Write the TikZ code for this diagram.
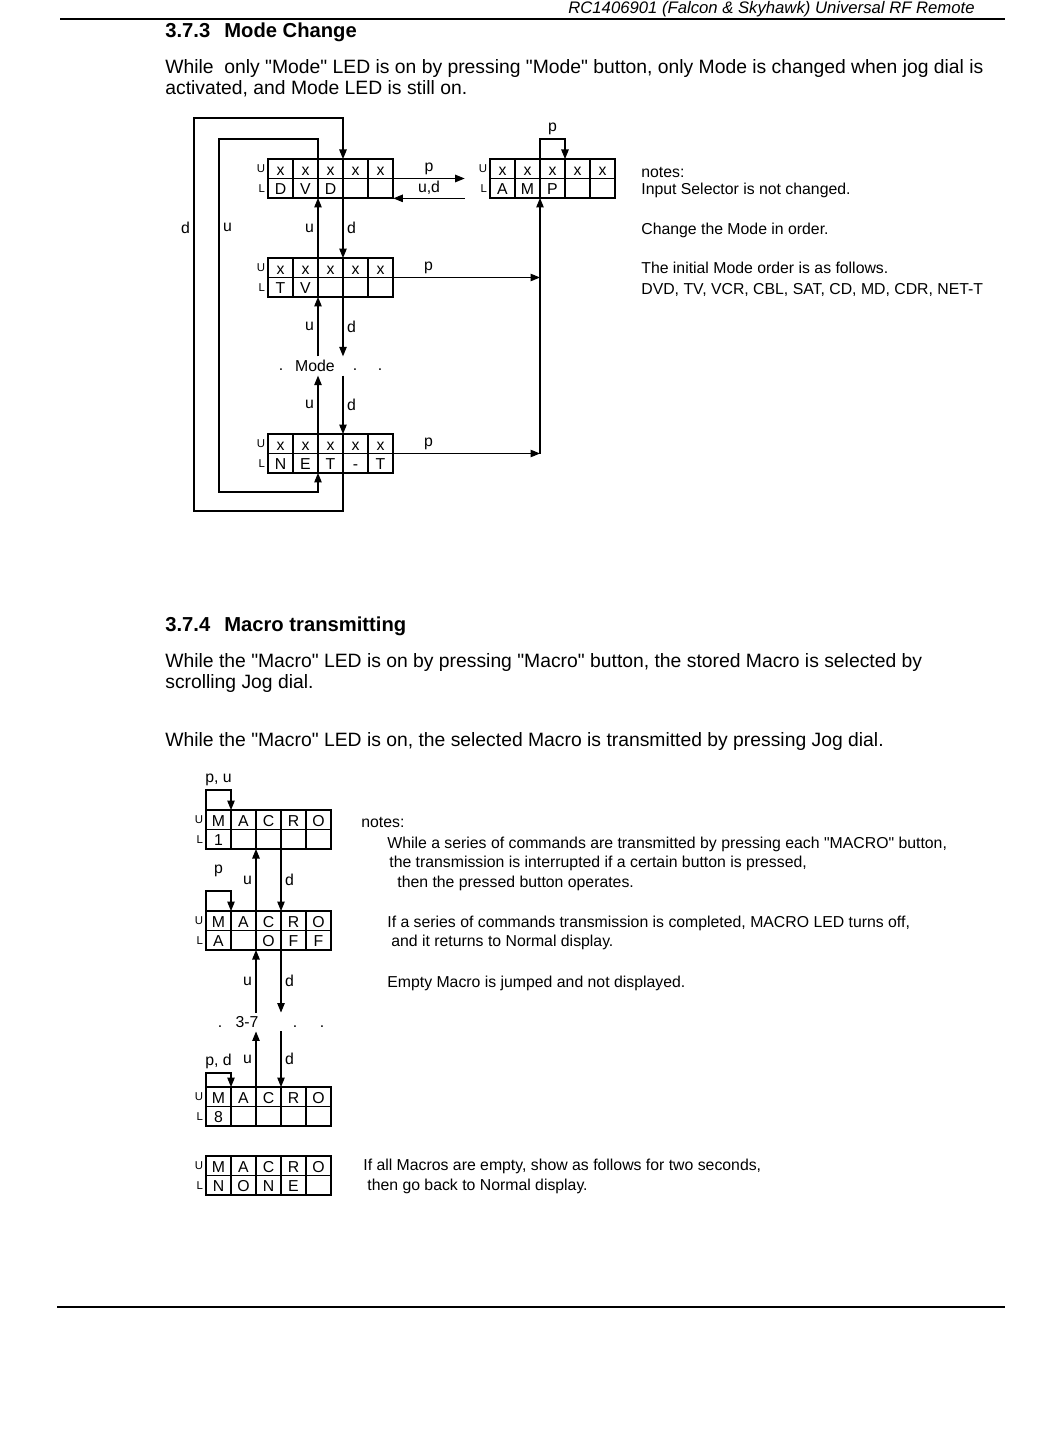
\documentclass[tikz,border=0pt]{standalone}
\usepackage{fontspec}
\setmainfont{Liberation Sans}
\usetikzlibrary{arrows.meta, calc, positioning, fit}

\newcommand{\dq}{\textquotedbl}

% one LED display: name, top left corner, upper row, lower row
\newcommand{\leddisp}[4]{%
  \foreach \cellch [count=\cellno] in {#3}
    \node[cell] (#1-u\cellno) at ($(#2)+(\cellno*25-25,0)$) {\cellch};
  \foreach \cellch [count=\cellno] in {#4}
    \node[cell] (#1-l\cellno) at ($(#2)+(\cellno*25-25,19.5)$) {\cellch};
  \node[fit=(#1-u1)(#1-l5), inner sep=0pt] (#1) {};
  \node[side] (#1-su) at (#1-u1.west) {U};
  \node[side] (#1-sl) at (#1-l1.west) {L};
}

\begin{document}
\begin{tikzpicture}[
  x=0.02cm, y=-0.02cm,
  cell/.style={draw, line width=0.7pt, outer sep=0pt, inner sep=0pt, anchor=north west,
    minimum width=0.5cm, minimum height=0.39cm, text height=0.72em, text depth=0pt,
    font=\fontsize{9}{10}\selectfont},
  side/.style={anchor=east, inner sep=1.5pt, font=\fontsize{6.5}{7}\selectfont},
  lbl/.style={inner sep=2pt, font=\fontsize{9}{10}\selectfont},
  txt/.style={anchor=west, inner sep=0pt, text height=1.5ex, text depth=0.25ex,
    font=\fontsize{11}{13}\selectfont},
  note/.style={txt, font=\fontsize{9}{10}\selectfont},
  head/.style={txt, font=\fontsize{11.5}{13}\selectfont\bfseries},
  wire/.style={line width=0.6pt},
  arr/.style={wire, -{Triangle[length=1.9mm, width=1.5mm]}},
  rule/.style={line width=1.1pt}
]
\fill[white] (0,0) rectangle (1049,1449);
\useasboundingbox (0,0) rectangle (1049,1449);

% page header and footer
\node[txt, anchor=east, font=\fontsize{9.5}{11}\selectfont\itshape] (hdr) at (975,8)
  {RC1406901 (Falcon \& Skyhawk) Universal RF Remote};
\draw[rule] (60,19) -- (1005,19);
\draw[rule] (57,1307) -- (1005,1307);

% 3.7.3
\node[head] (h373) at (165,32) {3.7.3\hspace{8pt}Mode Change};
\node[txt] (mtext1) at (165,68) {While\ \ only \dq Mode\dq{} LED is on by pressing \dq Mode\dq{} button, only Mode is changed when jog dial is};
\node[txt] (mtext2) at (165,89) {activated, and Mode LED is still on.};

\leddisp{dvd}{268,159}{x,x,x,x,x}{D,V,D,{},{}}
\leddisp{amp}{490,159}{x,x,x,x,x}{A,M,P,{},{}}
\leddisp{tv}{268,258}{x,x,x,x,x}{T,V,{},{},{}}
\leddisp{nett}{268,434}{x,x,x,x,x}{N,E,T,-,T}

\node[lbl] (modes) at (315,366) {Mode};
\node[lbl] (mdot1) at (281,370) {.};
\node[lbl] (mdot2) at (355,370) {.};
\node[lbl] (mdot3) at (380,370) {.};

\coordinate (dloopbot) at (194,511);
\coordinate (dlooptop) at (194,118);
\coordinate (ulooptop) at (219,139);
\coordinate (uloopbot) at (219,492);

% jog dial up / down
\draw[arr] (nett-l4.south west) |- (dloopbot) -- node[pos=0.72, left, lbl] {d} (dlooptop) -| (dvd-u4.north west);
\draw[arr] (dvd-u3.north west) |- (ulooptop) -- node[pos=0.25, right, lbl] {u} (uloopbot) -| (nett-l3.south west);
\draw[arr] (tv-u3.north west) -- node[midway, left, lbl] {u} (dvd-l3.south west);
\draw[arr] (dvd-l4.south west) -- node[midway, right, lbl] {d} (tv-u4.north west);
\draw[arr] (tv-l3.south west |- modes.north) -- node[midway, left, lbl] {u} (tv-l3.south west);
\draw[arr] (tv-l4.south west) -- node[midway, right, lbl] {d} (tv-l4.south west |- modes.north);
\draw[arr] (nett-u3.north west) -- node[midway, left, lbl] {u} (nett-u3.north west |- modes.south);
\draw[arr] (nett-u4.north west |- modes.south) -- node[midway, right, lbl] {d} (nett-u4.north west);

% press to AMP
\draw[arr] (dvd.east) -- node[midway, above, lbl] {p} ($(amp.west)+(-25,0)$);
\draw[arr] ($(amp.south west)+(-25,0)$) -- node[midway, above, lbl] {u,d} (dvd.south east);
\draw[arr] (amp-u3.north west) -- ++(0,-20) -| node[pos=0.25, above, lbl] {p} (amp-u4.north west);
\draw[arr] (tv.east) -- node[pos=0.24, above, lbl] {p} (tv.east -| amp-l3.south west);
\draw[arr] (nett.east) -- node[pos=0.24, above, lbl] {p} (nett.east -| amp-l3.south west);
\draw[arr] (nett.east -| amp-l3.south west) -- (amp-l3.south west);

\node[note] (mnote0) at (641,172) {notes:};
\node[note] (mnote1) at (641,189) {Input Selector is not changed.};
\node[note] (mnote2) at (641,229) {Change the Mode in order.};
\node[note] (mnote3) at (641,268) {The initial Mode order is as follows.};
\node[note] (mnote4) at (641,289) {DVD, TV, VCR, CBL, SAT, CD, MD, CDR, NET-T};

% 3.7.4
\node[head] (h374) at (165,626) {3.7.4\hspace{8pt}Macro transmitting};
\node[txt] (ctext1) at (165,662) {While the \dq Macro\dq{} LED is on by pressing \dq Macro\dq{} button, the stored Macro is selected by};
\node[txt] (ctext2) at (165,683) {scrolling Jog dial.};
\node[txt] (ctext3) at (165,741) {While the \dq Macro\dq{} LED is on, the selected Macro is transmitted by pressing Jog dial.};

\leddisp{mone}{206,810}{M,A,C,R,O}{1,{},{},{},{}}
\leddisp{moff}{206,911}{M,A,C,R,O}{A,{},O,F,F}
\leddisp{meight}{206,1087}{M,A,C,R,O}{8,{},{},{},{}}
\leddisp{mnone}{206,1156}{M,A,C,R,O}{N,O,N,E,{}}

\node[lbl] (range) at (247,1022) {3-7};
\node[lbl] (rdot1) at (220,1027) {.};
\node[lbl] (rdot2) at (295,1027) {.};
\node[lbl] (rdot3) at (322,1027) {.};

\draw[arr] (mone-u1.north west) -- ++(0,-20) -| node[pos=0.25, above, lbl] {p, u} (mone-u2.north west);
\draw[arr] (moff-u1.north west) -- ++(0,-20) -| node[pos=0.25, above=6pt, lbl] {p} (moff-u2.north west);
\draw[arr] (meight-u1.north west) -- ++(0,-14) -| node[pos=0.25, above, lbl] {p, d} (meight-u2.north west);
\draw[arr] (moff-u3.north west) -- node[midway, left, lbl] {u} (mone-l3.south west);
\draw[arr] (mone-l4.south west) -- node[midway, right, lbl] {d} (moff-u4.north west);
\draw[arr] (moff-l3.south west |- range.north) -- node[midway, left, lbl] {u} (moff-l3.south west);
\draw[arr] (moff-l4.south west) -- node[midway, right, lbl] {d} (moff-l4.south west |- range.north);
\draw[arr] (meight-u3.north west) -- node[midway, left, lbl] {u} (meight-u3.north west |- range.south);
\draw[arr] (meight-u4.north west |- range.south) -- node[midway, right, lbl] {d} (meight-u4.north west);

\node[note] (cnote0) at (361,822) {notes:};
\node[note] (cnote1) at (387,843) {While a series of commands are transmitted by pressing each \dq MACRO\dq{} button,};
\node[note] (cnote2) at (389,862) {the transmission is interrupted if a certain button is pressed,};
\node[note] (cnote3) at (397,882) {then the pressed button operates.};
\node[note] (cnote4) at (387,922) {If a series of commands transmission is completed, MACRO LED turns off,};
\node[note] (cnote5) at (391,941) {and it returns to Normal display.};
\node[note] (cnote6) at (387,982) {Empty Macro is jumped and not displayed.};
\node[note] (cnote7) at (363,1165) {If all Macros are empty, show as follows for two seconds,};
\node[note] (cnote8) at (367,1185) {then go back to Normal display.};
\end{tikzpicture}
\end{document}
